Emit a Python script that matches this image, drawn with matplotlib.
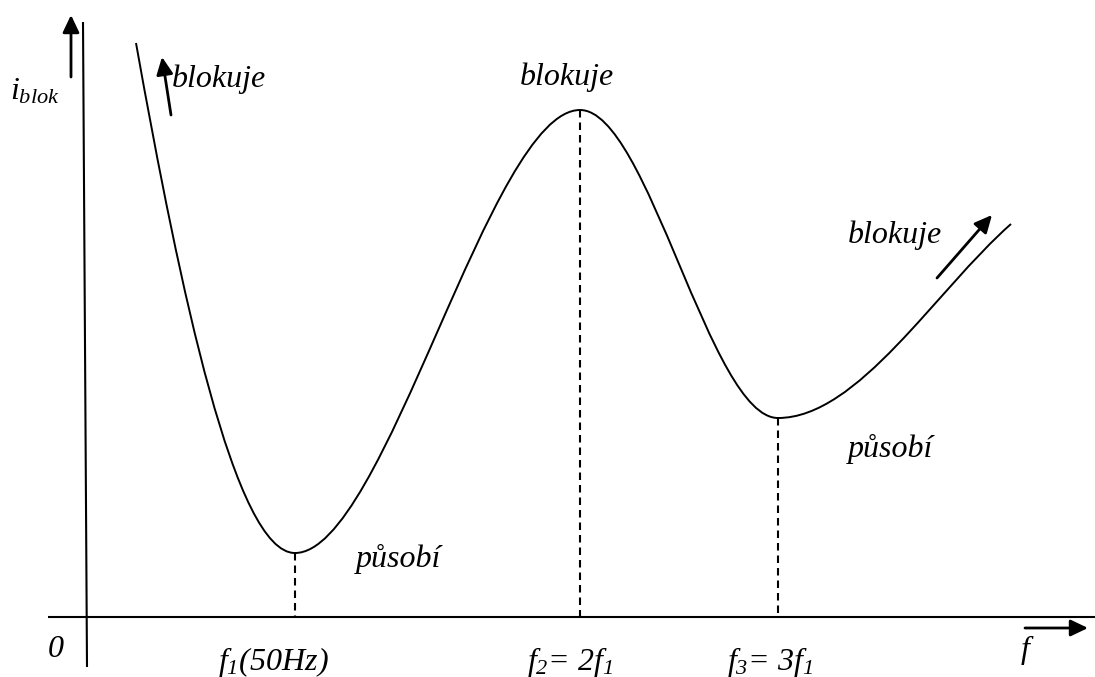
import matplotlib
matplotlib.use("Agg")
import matplotlib.pyplot as plt
from matplotlib.patches import FancyArrowPatch, PathPatch
from matplotlib.path import Path

plt.rcParams["font.family"] = ["Liberation Serif", "DejaVu Serif"]
plt.rcParams["mathtext.fontset"] = "custom"
plt.rcParams["mathtext.it"] = "Liberation Serif:italic"
plt.rcParams["mathtext.rm"] = "Liberation Serif:italic"

# ---------------- schematic data (drawing units, y grows downward) ----------------
# knots of the characteristic: start, min at f1, max at f2, min at f3, end
knot_x = [136, 295, 580, 778, 1011]
knot_y = [43, 553, 110, 418, 224]
# bezier handles between consecutive knots: (out of left knot, into right knot)
handle_out = [(180, 289), (385, 553), (648, 110), (858, 418)]
handle_in = [(235, 553), (490, 110), (710, 418), (936, 290)]

marker_x = [295, 580, 778]      # f1, f2, f3
marker_top = [553, 110, 418]
axis_y = 617                    # horizontal axis level

f_labels = ["$f_1$(50Hz)", "$f_2$= 2$f_1$", "$f_3$= 3$f_1$"]
f_label_x = [218, 527, 727]

notes = [
    ("blokuje", 172, 87),
    ("blokuje", 520, 85),
    ("blokuje", 848, 243),
    ("působí", 848, 457),
    ("působí", 356, 567),
]

# ---------------- figure ----------------
fig = plt.figure(figsize=(10.95, 6.77), dpi=100)
ax = fig.add_axes([0, 0, 1, 1])
ax.set_xlim(0, 1095)
ax.set_ylim(677, 0)
ax.axis("off")

# axes of the sketch
ax.plot([83, 87], [22, 667], color="black", lw=1.5, solid_capstyle="butt")
ax.plot([48, 1095], [axis_y, axis_y], color="black", lw=1.5, solid_capstyle="butt")

# the characteristic as a chain of cubic beziers
verts = [(knot_x[0], knot_y[0])]
codes = [Path.MOVETO]
for i in range(len(handle_out)):
    verts += [handle_out[i], handle_in[i], (knot_x[i + 1], knot_y[i + 1])]
    codes += [Path.CURVE4] * 3
ax.add_patch(PathPatch(Path(verts, codes), fill=False, edgecolor="black", lw=1.4))

# dashed drop lines from the extremes
for mx, top in zip(marker_x, marker_top):
    ax.plot([mx, mx], [top, axis_y], color="black", lw=1.5, dashes=(3.6, 2.4))


def arrow(tail, tip):
    ax.add_patch(FancyArrowPatch(tail, tip,
                                 arrowstyle="-|>,head_length=1.05,head_width=0.5",
                                 mutation_scale=10, lw=2.0, color="black",
                                 shrinkA=0, shrinkB=0))


arrow((71, 77), (71, 15))        # y axis direction
arrow((1025, 628), (1088, 628))  # f axis direction
arrow((171, 115), (162, 57))     # blokuje, low frequencies
arrow((937, 278), (992, 215))    # blokuje, high frequencies

fs = 23
txt = dict(fontsize=fs, fontstyle="italic", ha="left", va="baseline")
for s, x, y in notes:
    ax.text(x, y, s, **txt)

for s, x in zip(f_labels, f_label_x):
    ax.text(x, 670, s, **txt)

ax.text(10, 100, "$i_{blok}$", **txt)
ax.text(48, 657, "0", **txt)
ax.text(1020, 658, "$f$", **txt)

fig.savefig("out.png", dpi=100)
